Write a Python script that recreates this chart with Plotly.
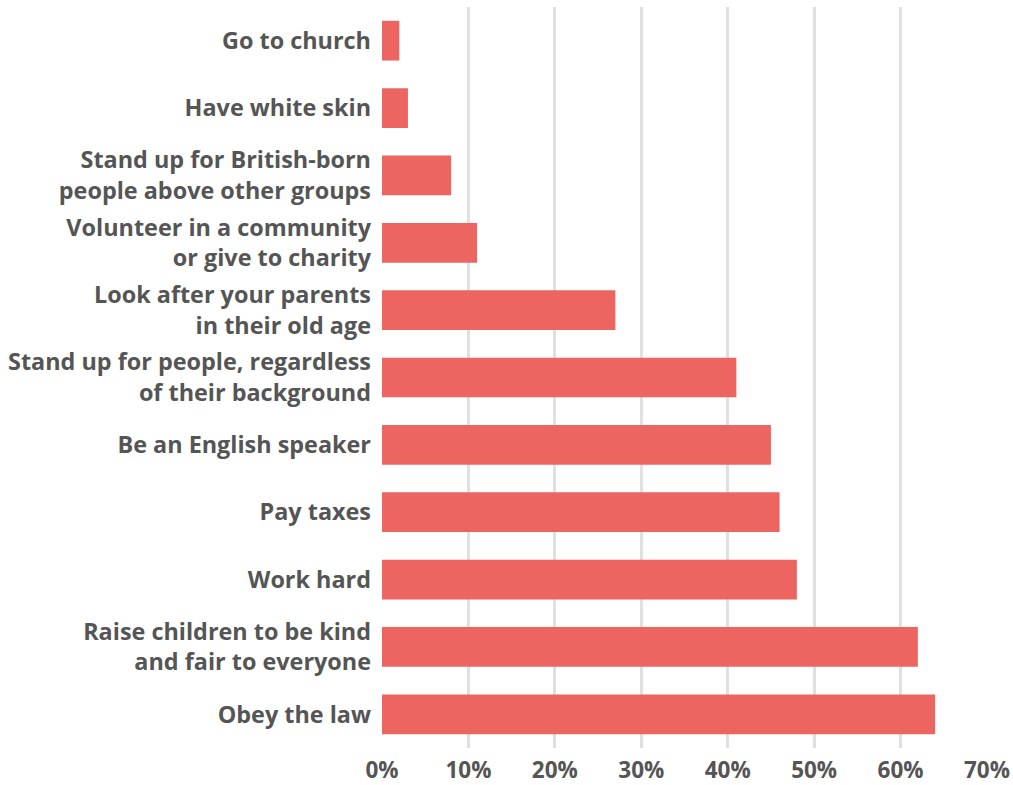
import plotly.graph_objects as go

categories = [
    "Go to church",
    "Have white skin",
    "Stand up for British-born<br>people above other groups",
    "Volunteer in a community<br>or give to charity",
    "Look after your parents<br>in their old age",
    "Stand up for people, regardless<br>of their background",
    "Be an English speaker",
    "Pay taxes",
    "Work hard",
    "Raise children to be kind<br>and fair to everyone",
    "Obey the law",
]
values = [2, 3, 8, 11, 27, 41, 45, 46, 48, 62, 64]
tick_vals = [0, 10, 20, 30, 40, 50, 60, 70]
tick_text = ["0%", "10%", "20%", "30%", "40%", "50%", "60%", "70%"]

fig = go.Figure(go.Bar(
    x=values, y=categories, orientation="h",
    marker=dict(color="#EC6560", line=dict(width=0)),
    hoverinfo="skip",
))

fig.update_layout(
    width=1013, height=785,
    margin=dict(l=382, r=26, t=7, b=37),
    paper_bgcolor="white", plot_bgcolor="white",
    bargap=0.41,
    showlegend=False,
    font=dict(family="Open Sans", size=23, color="#555555"),
)
fig.update_xaxes(
    range=[0, 70], tickvals=tick_vals, ticktext=tick_text,
    showgrid=True, gridcolor="#E0E0E0", gridwidth=2.5,
    zeroline=False, showline=False, automargin=False,
    tickfont=dict(family="Open Sans", size=22.5, color="#555555", weight="bold"),
    ticks="", ticklabelstandoff=6,
)
fig.update_yaxes(
    autorange="reversed", showgrid=False, zeroline=False, showline=False,
    automargin=False,
    tickfont=dict(family="Open Sans", size=23.4, color="#555555", weight="bold"),
    ticks="", ticklabelstandoff=10,
)

fig.write_html("out.html")
